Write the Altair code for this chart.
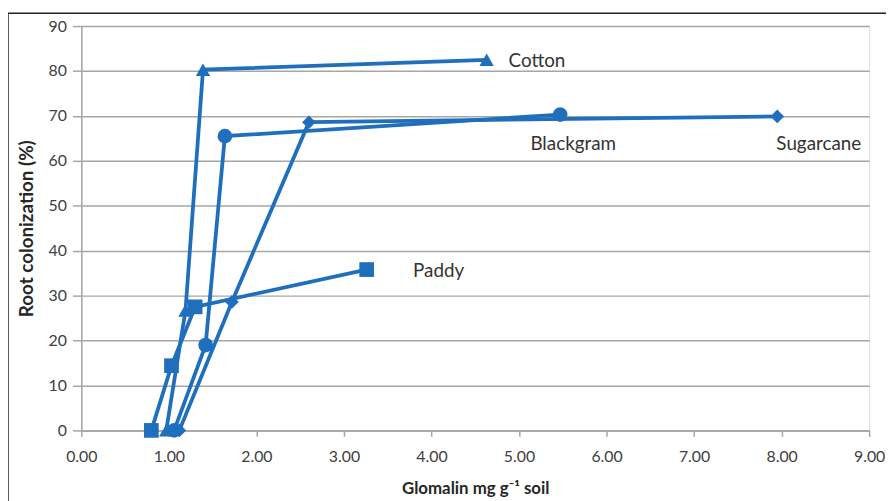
import altair as alt
import pandas as pd

series = ["Paddy", "Cotton", "Blackgram", "Sugarcane"]
shapes = ["square", "triangle-up", "circle", "diamond"]
sizes = [220, 210, 220, 190]

paddy_x = [0.80, 1.03, 1.30, 3.26]
paddy_y = [0.0, 14.4, 27.5, 35.8]
cotton_x = [0.97, 1.19, 1.39, 4.63]
cotton_y = [0.0, 26.7, 80.3, 82.5]
blackgram_x = [1.06, 1.42, 1.64, 5.47]
blackgram_y = [0.0, 19.0, 65.5, 70.3]
sugarcane_x = [1.12, 1.72, 2.60, 7.95]
sugarcane_y = [0.0, 28.6, 68.6, 69.9]

label_text = ["Paddy", "Cotton", "Blackgram", "Sugarcane"]
label_x = [3.79, 4.88, 5.13, 7.94]
label_y = [35.5, 82.3, 63.8, 63.8]

x_ticks = [0, 1, 2, 3, 4, 5, 6, 7, 8, 9]
y_ticks = [0, 10, 20, 30, 40, 50, 60, 70, 80, 90]

rows = []
for name, xs, ys in [("Paddy", paddy_x, paddy_y), ("Cotton", cotton_x, cotton_y),
                     ("Blackgram", blackgram_x, blackgram_y), ("Sugarcane", sugarcane_x, sugarcane_y)]:
    for i, (a, b) in enumerate(zip(xs, ys)):
        rows.append({"series": name, "x": a, "y": b, "i": i})
df = pd.DataFrame(rows)
labels = pd.DataFrame({"t": label_text, "x": label_x, "y": label_y})

BLUE = "#1f6fbd"
FONT = "Lato"

xs = alt.Scale(domain=[0, 9], nice=False)
ys = alt.Scale(domain=[0, 90], nice=False)

x_enc = alt.X("x:Q", scale=xs, axis=alt.Axis(
    values=x_ticks, format=".2f", title="Glomalin mg g⁻¹ soil", grid=False, labelFlush=False,
    domainColor="#a6a6a6", domainWidth=1.5, tickColor="#a6a6a6", tickSize=6, tickWidth=1.5,
    labelFontSize=16, labelColor="#404040", labelPadding=12, labelFont=FONT,
    titleFontSize=17, titleFont=FONT, titleFontWeight="bold", titleColor="#262626", titlePadding=17))
y_enc = alt.Y("y:Q", scale=ys, axis=alt.Axis(
    values=y_ticks, title="Root colonization (%)", grid=True, gridColor="#a6a6a6", gridWidth=1.5,
    labelFlush=False,
    domainColor="#a6a6a6", domainWidth=1.5, tickColor="#a6a6a6", tickSize=9, tickWidth=1.5,
    labelFontSize=16, labelColor="#404040", labelPadding=6, labelFont=FONT,
    titleFontSize=19, titleFont=FONT, titleFontWeight="bold", titleColor="#262626", titlePadding=12))

base = alt.Chart(df)

lines = base.mark_line(color=BLUE, strokeWidth=3.8).encode(
    x=x_enc, y=y_enc, detail="series:N", order="i:Q")

pts = []
for s, shp, sz in zip(series, shapes, sizes):
    pts.append(base.transform_filter(alt.datum.series == s).mark_point(
        shape=shp, size=sz, filled=True, color=BLUE, opacity=1).encode(x="x:Q", y="y:Q"))

txt = alt.Chart(labels).mark_text(align="left", baseline="middle", fontSize=19, font=FONT,
                                  color="#333333").encode(x="x:Q", y="y:Q", text="t:N")

border = alt.Chart(pd.DataFrame({"a": [0]})).mark_rect(
    fill=None, stroke="#222222", strokeWidth=1.5).encode(
    x=alt.value(-74), x2=alt.value(830), y=alt.value(-13), y2=alt.value(520))

chart = alt.layer(border, lines, *pts, txt).properties(
    width=795, height=408,
    autosize=alt.AutoSizeParams(type="none"),
    padding={"left": 74, "top": 16, "right": 17, "bottom": 69}
).configure_view(stroke=None).configure(background="white")

chart.save("out.html", embed_options={"renderer": "svg", "actions": False})
